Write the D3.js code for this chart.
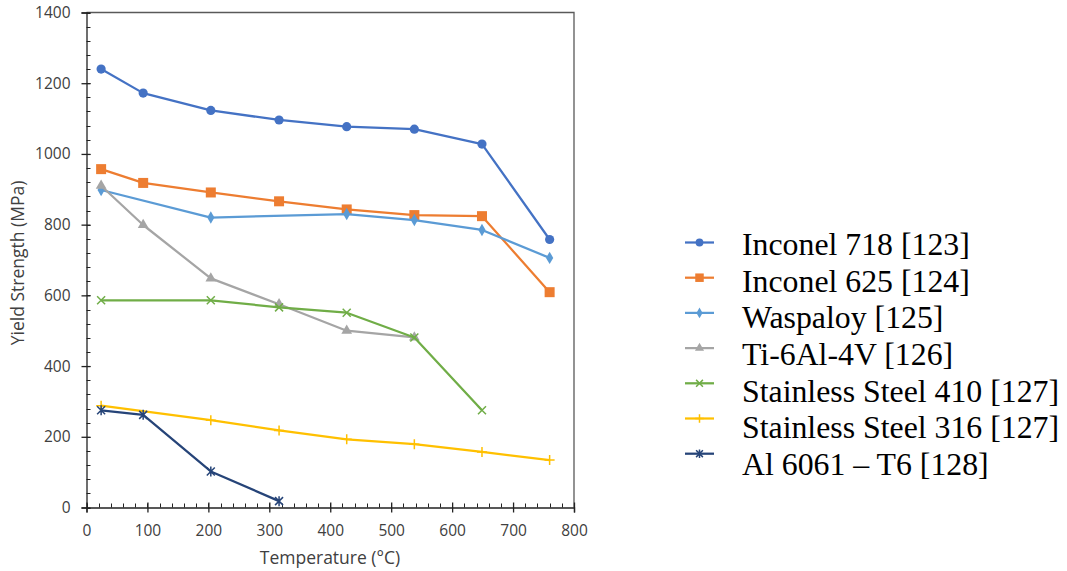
<!DOCTYPE html>
<html>
<head>
<meta charset="utf-8">
<script src="https://cdn.jsdelivr.net/npm/d3@7"></script>
<style>
  body { margin: 0; background: #fff; }
  svg { display: block; }
  .tick text { font-family: "Open Sans", sans-serif; font-size: 15.5px; fill: #404040; }
</style>
</head>
<body>
<svg id="chart" width="1067" height="571"></svg>
<script>
// temperatures (°C) and yield strengths (MPa)
const names = [
  "Inconel 718 [123]", "Inconel 625 [124]", "Waspaloy [125]", "Ti-6Al-4V [126]",
  "Stainless Steel 410 [127]", "Stainless Steel 316 [127]", "Al 6061 \u2013 T6 [128]"
];
const inconel718 = [[24, 1240], [93, 1172], [204, 1123], [316, 1096], [427, 1077], [538, 1070], [649, 1028], [760, 758]];
const inconel625 = [[24, 957], [93, 918], [204, 891], [316, 866], [427, 843], [538, 827], [649, 824], [760, 609]];
const waspaloy = [[24, 898], [204, 820], [427, 830], [538, 813], [649, 785], [760, 706]];
const ti64 = [[24, 910], [93, 799], [204, 648], [316, 575], [427, 500], [538, 481]];
const ss410 = [[24, 586], [204, 586], [316, 566], [427, 551], [538, 481], [649, 275]];
const ss316 = [[24, 288], [204, 247], [316, 218], [427, 193], [538, 179], [649, 157], [760, 134]];
const al6061 = [[24, 275], [93, 262], [204, 102], [316, 18]];
const xTicks = [0, 100, 200, 300, 400, 500, 600, 700, 800];
const yTicks = [0, 200, 400, 600, 800, 1000, 1200, 1400];

const seriesData = [inconel718, inconel625, waspaloy, ti64, ss410, ss316, al6061];
const colors = ["#4472C4", "#ED7D31", "#5B9BD5", "#A5A5A5", "#70AD47", "#FFC000", "#264478"];
const markers = ["circle", "square", "diamond", "triangle", "x", "plus", "star"];

const svg = d3.select("#chart");
const x = d3.scaleLinear([0, 800], [86.5, 574]);
const y = d3.scaleLinear([0, 1400], [507.5, 12.5]);

// frame top/right
svg.append("path")
  .attr("d", `M${x(0)},${y(1400)}H${x(800)}V${y(0)}`)
  .attr("fill", "none").attr("stroke", "#595959").attr("stroke-width", 1.3);

// minor ticks (inside)
const g = svg.append("g");
g.selectAll(".ym").data(d3.range(0, 1401, 40)).join("line")
  .attr("x1", x(0)).attr("x2", x(0) + 4)
  .attr("y1", (d) => Math.round(y(d)) + 0.5).attr("y2", (d) => Math.round(y(d)) + 0.5)
  .attr("stroke", "#222").attr("stroke-width", 1);
g.selectAll(".xm").data(d3.range(0, 801, 20)).join("line")
  .attr("y1", y(0)).attr("y2", y(0) - 4)
  .attr("x1", (d) => Math.round(x(d)) + 0.5).attr("x2", (d) => Math.round(x(d)) + 0.5)
  .attr("stroke", "#222").attr("stroke-width", 1);

const axisY = svg.append("g").attr("transform", `translate(${x(0)},0)`)
  .call(d3.axisLeft(y).tickValues(yTicks).tickSize(5).tickPadding(11).tickFormat(d3.format("d")));
const axisX = svg.append("g").attr("transform", `translate(0,${y(0)})`)
  .call(d3.axisBottom(x).tickValues(xTicks).tickSize(5).tickPadding(12).tickFormat(d3.format("d")));
[axisY, axisX].forEach((a) => {
  a.select(".domain").attr("stroke", "#222").attr("stroke-width", 1.3);
  a.selectAll(".tick line").attr("stroke", "#222").attr("stroke-width", 1.3);
});
axisY.selectAll(".tick line").attr("x2", 4).attr("x1", -5);
axisX.selectAll(".tick line").attr("y1", -5).attr("y2", 5);

svg.append("text").attr("x", 330).attr("y", 564).attr("text-anchor", "middle")
  .attr("font-family", "Open Sans, sans-serif").attr("font-size", 17.5).attr("fill", "#404040")
  .text("Temperature (°C)");
svg.append("text").attr("transform", "translate(24,263) rotate(-90)").attr("text-anchor", "middle")
  .attr("font-family", "Open Sans, sans-serif").attr("font-size", 17.5).attr("fill", "#404040")
  .text("Yield Strength (MPa)");

function drawMarker(sel, type, color, s) {
  if (type === "circle") sel.append("circle").attr("r", 4.6 * s).attr("fill", color);
  else if (type === "square") sel.append("rect").attr("x", -5 * s).attr("y", -5 * s)
    .attr("width", 10 * s).attr("height", 10 * s).attr("fill", color);
  else if (type === "diamond") sel.append("path").attr("d", d3.symbol(d3.symbolDiamond, 45 * s * s)).attr("fill", color);
  else if (type === "triangle") sel.append("path").attr("d", d3.symbol(d3.symbolTriangle, 50 * s * s)).attr("fill", color);
  else if (type === "x") sel.append("path").attr("d", `M${-4 * s},${-4 * s}L${4 * s},${4 * s}M${-4 * s},${4 * s}L${4 * s},${-4 * s}`)
    .attr("stroke", color).attr("stroke-width", 1.5);
  else if (type === "plus") sel.append("path").attr("d", `M${-5 * s},0H${5 * s}M0,${-5 * s}V${5 * s}`)
    .attr("stroke", color).attr("stroke-width", 1.5);
  else if (type === "star") sel.append("path").attr("d", `M${-4 * s},${-4 * s}L${4 * s},${4 * s}M${-4 * s},${4 * s}L${4 * s},${-4 * s}M0,${-5 * s}V${5 * s}`)
    .attr("stroke", color).attr("stroke-width", 1.5);
}

const line = d3.line().x((d) => x(d[0])).y((d) => y(d[1]));
seriesData.forEach((data, i) => {
  const sg = svg.append("g");
  sg.append("path").datum(data).attr("d", line).attr("fill", "none")
    .attr("stroke", colors[i]).attr("stroke-width", 2.25).attr("stroke-linejoin", "round");
  sg.selectAll("g.m").data(data).join("g").attr("class", "m")
    .attr("transform", (d) => `translate(${x(d[0])},${y(d[1])})`)
    .each(function () { drawMarker(d3.select(this), markers[i], colors[i], 1); });
});

// legend
const legY = d3.scaleLinear([0, 6], [242.5, 453.7]);
const txtY = d3.scaleLinear([0, 6], [255, 475]);
const leg = svg.append("g");
names.forEach((n, i) => {
  leg.append("line").attr("x1", 685).attr("x2", 714).attr("y1", legY(i)).attr("y2", legY(i))
    .attr("stroke", colors[i]).attr("stroke-width", 2.25);
  const mg = leg.append("g").attr("transform", `translate(699.5,${legY(i)})`);
  drawMarker(mg, markers[i], colors[i], 0.85);
  leg.append("text").attr("x", 742).attr("y", txtY(i))
    .attr("font-family", "Liberation Serif, Times New Roman, serif").attr("font-size", 31.8).attr("fill", "#000")
    .text(n);
});
</script>
</body>
</html>
